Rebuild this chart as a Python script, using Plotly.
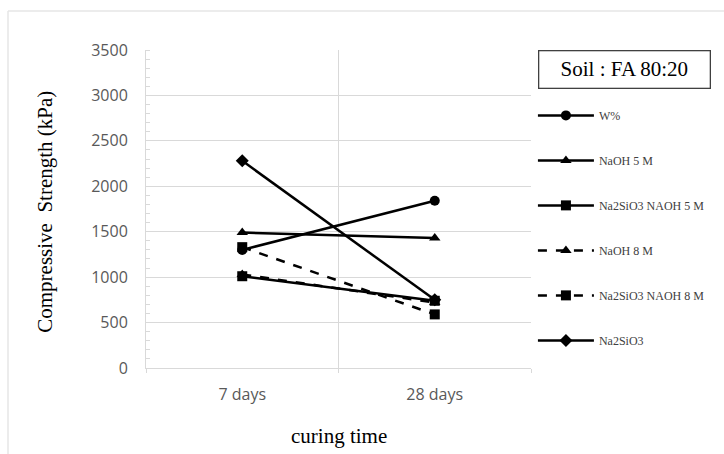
import plotly.graph_objects as go

# Curing ages on the category axis
curing = ["7 days", "28 days"]

# Compressive strength (kPa) per mix
w_pct = [1300, 1840]
naoh_5m = [1490, 1430]
na2sio3_naoh_5m = [1010, 740]
naoh_8m = [1030, 720]
na2sio3_naoh_8m = [1330, 590]
na2sio3 = [2280, 750]

series = [
    ("W%", w_pct, "circle", "solid"),
    ("NaOH 5 M", naoh_5m, "triangle-up", "solid"),
    ("Na2SiO3 NAOH 5 M", na2sio3_naoh_5m, "square", "solid"),
    ("NaOH 8 M", naoh_8m, "triangle-up", "dash"),
    ("Na2SiO3 NAOH 8 M", na2sio3_naoh_8m, "square", "dash"),
    ("Na2SiO3", na2sio3, "diamond", "solid"),
]

y_ticks = [0, 500, 1000, 1500, 2000, 2500, 3000, 3500]

fig = go.Figure()
for i, (name, vals, sym, dash) in enumerate(series):
    fig.add_trace(go.Scatter(
        x=curing, y=vals, name=name, mode="lines+markers",
        legendgroup=f"g{i}",
        line=dict(color="black", width=2.5, dash=dash),
        marker=dict(symbol=sym, size=10, color="black"),
    ))

grid = "#d9d9d9"
tick_font = dict(family="Open Sans, Liberation Sans, sans-serif", size=16, color="#595959")
serif = "Liberation Serif, Times New Roman, serif"

# plot area in pixels: x 146..531, y 50..368.5
px_w, px_h = 385, 318.5

fig.update_layout(
    width=724, height=454,
    margin=dict(l=146, r=193, t=50, b=85.5),
    paper_bgcolor="white", plot_bgcolor="white",
    showlegend=True,
    legend=dict(
        x=1.005, y=0.84, xanchor="left", yanchor="top",
        font=dict(family=serif, size=12, color="#404040"),
        tracegroupgap=26, itemwidth=56,
        traceorder="grouped",
        bgcolor="rgba(0,0,0,0)",
    ),
    xaxis=dict(
        type="category", tickson="boundaries",
        showgrid=True, gridcolor=grid, gridwidth=1,
        showline=True, linecolor=grid, linewidth=1,
        ticks="outside", ticklen=4, tickcolor=grid,
        tickfont=tick_font, ticklabelstandoff=12, range=[-0.5, 1.5],
        zeroline=False,
    ),
    yaxis=dict(
        range=[0, 3500], tickvals=y_ticks,
        showgrid=True, gridcolor=grid, gridwidth=1,
        showline=True, linecolor=grid, linewidth=1,
        ticks="", tickfont=tick_font, ticklabelstandoff=14,
        minor=dict(dtick=100, ticks="inside", ticklen=4, tickcolor=grid, showgrid=False),
        zeroline=False,
    ),
    annotations=[
        dict(text="Compressive  Strength (kPa)", x=(45 - 146) / px_w, xref="paper",
             xanchor="center", y=(368.5 - 212) / px_h, yref="paper", yanchor="middle",
             textangle=-90, showarrow=False,
             font=dict(family=serif, size=21, color="black")),
        dict(text="curing time", x=(339 - 146) / px_w, xref="paper",
             y=(368.5 - 437) / px_h, yref="paper", yanchor="middle", showarrow=False,
             font=dict(family=serif, size=21, color="black")),
        dict(text="Soil : FA 80:20", x=(624 - 146) / px_w, xref="paper",
             y=(368.5 - 70) / px_h, yref="paper",
             xanchor="center", yanchor="middle", showarrow=False,
             bordercolor="#404040", borderwidth=1.3, borderpad=6,
             width=158, bgcolor="white",
             font=dict(family=serif, size=21, color="black")),
    ],
    shapes=[
        # outer chart frame
        dict(type="line", xref="paper", yref="paper", x0=(8 - 146) / px_w, x1=1.6,
             y0=(368.5 - 11) / px_h, y1=(368.5 - 11) / px_h,
             line=dict(color="#e6e6e6", width=1.5)),
        dict(type="line", xref="paper", yref="paper", x0=(8 - 146) / px_w, x1=(8 - 146) / px_w,
             y0=(368.5 - 11) / px_h, y1=-0.3, line=dict(color="#e6e6e6", width=1.5)),
    ],
)

fig.write_html("out.html")
